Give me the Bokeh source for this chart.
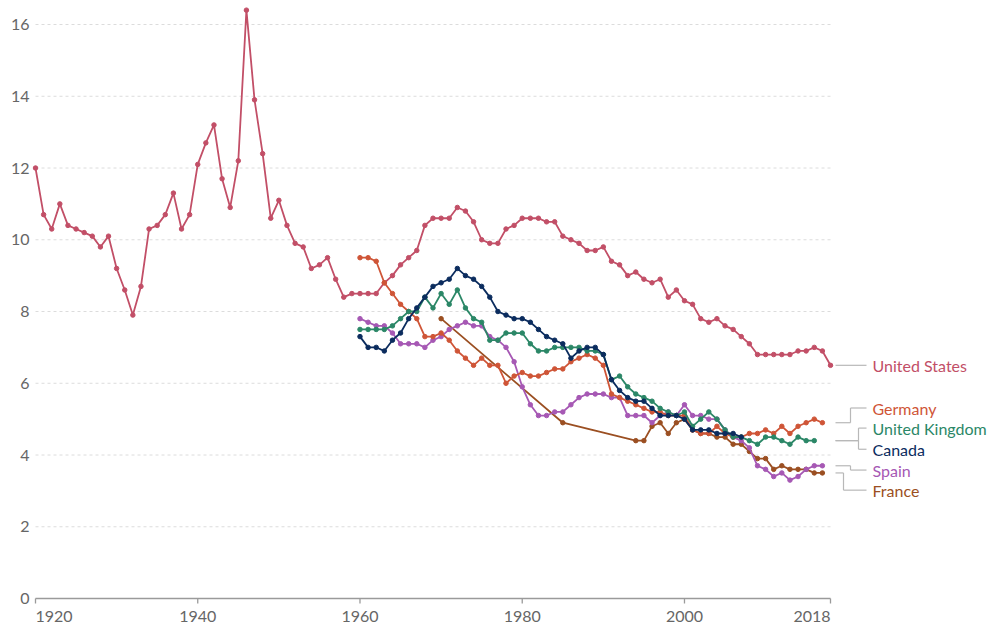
from bokeh.plotting import figure
from bokeh.models import Range1d
from bokeh.core.properties import value
from bokeh.embed import file_html
from bokeh.resources import INLINE

# ---------------- data ----------------
us_years = list(range(1920, 2019))
us_vals = [12.0, 10.7, 10.3, 11.0, 10.4, 10.3, 10.2, 10.1, 9.8, 10.1,
           9.2, 8.6, 7.9, 8.7, 10.3, 10.4, 10.7, 11.3, 10.3, 10.7,
           12.1, 12.7, 13.2, 11.7, 10.9, 12.2, 16.4, 13.9, 12.4, 10.6,
           11.1, 10.4, 9.9, 9.8, 9.2, 9.3, 9.5, 8.9, 8.4, 8.5,
           8.5, 8.5, 8.5, 8.8, 9.0, 9.3, 9.5, 9.7, 10.4, 10.6,
           10.6, 10.6, 10.9, 10.8, 10.5, 10.0, 9.9, 9.9, 10.3, 10.4,
           10.6, 10.6, 10.6, 10.5, 10.5, 10.1, 10.0, 9.9, 9.7, 9.7,
           9.8, 9.4, 9.3, 9.0, 9.1, 8.9, 8.8, 8.9, 8.4, 8.6,
           8.3, 8.2, 7.8, 7.7, 7.8, 7.6, 7.5, 7.3, 7.1, 6.8,
           6.8, 6.8, 6.8, 6.8, 6.9, 6.9, 7.0, 6.9, 6.5]

de_years = list(range(1960, 2018))
de_vals = [9.5, 9.5, 9.4, 8.8, 8.5, 8.2, 8.0, 7.8, 7.3, 7.3,
           7.4, 7.2, 6.9, 6.7, 6.5, 6.7, 6.5, 6.5, 6.0, 6.2,
           6.3, 6.2, 6.2, 6.3, 6.4, 6.4, 6.6, 6.7, 6.8, 6.7,
           6.5, 5.7, 5.6, 5.5, 5.4, 5.3, 5.2, 5.2, 5.1, 5.1,
           5.1, 4.7, 4.6, 4.6, 4.8, 4.6, 4.5, 4.5, 4.6, 4.6,
           4.7, 4.6, 4.8, 4.6, 4.8, 4.9, 5.0, 4.9]

uk_years = list(range(1960, 2017))
uk_vals = [7.5, 7.5, 7.5, 7.5, 7.6, 7.8, 8.0, 8.0, 8.4, 8.1,
           8.5, 8.2, 8.6, 8.1, 7.8, 7.7, 7.2, 7.2, 7.4, 7.4,
           7.4, 7.1, 6.9, 6.9, 7.0, 7.0, 7.0, 7.0, 6.9, 6.9,
           6.8, 6.1, 6.2, 5.9, 5.7, 5.6, 5.5, 5.3, 5.2, 5.1,
           5.2, 4.8, 5.0, 5.2, 5.0, 4.7, 4.5, 4.5, 4.4, 4.3,
           4.5, 4.5, 4.4, 4.3, 4.5, 4.4, 4.4]

ca_years = list(range(1960, 2008))
ca_vals = [7.3, 7.0, 7.0, 6.9, 7.2, 7.4, 7.8, 8.1, 8.4, 8.7,
           8.8, 8.9, 9.2, 9.0, 8.9, 8.7, 8.4, 8.0, 7.9, 7.8,
           7.8, 7.7, 7.5, 7.3, 7.2, 7.1, 6.7, 6.9, 7.0, 7.0,
           6.8, 6.1, 5.8, 5.6, 5.5, 5.5, 5.3, 5.1, 5.1, 5.1,
           5.0, 4.7, 4.7, 4.7, 4.6, 4.6, 4.6, 4.5]

es_years = list(range(1960, 2018))
es_vals = [7.8, 7.7, 7.6, 7.6, 7.4, 7.1, 7.1, 7.1, 7.0, 7.2,
           7.3, 7.5, 7.6, 7.7, 7.6, 7.6, 7.3, 7.2, 7.0, 6.6,
           5.9, 5.4, 5.1, 5.1, 5.2, 5.2, 5.4, 5.6, 5.7, 5.7,
           5.7, 5.6, 5.6, 5.1, 5.1, 5.1, 4.9, 5.1, 5.2, 5.1,
           5.4, 5.1, 5.1, 5.0, 5.0, 4.7, 4.5, 4.4, 4.2, 3.7,
           3.6, 3.4, 3.5, 3.3, 3.4, 3.6, 3.7, 3.7]

fr_years = [1970, 1985] + list(range(1994, 2018))
fr_vals = [7.8, 4.9, 4.4, 4.4, 4.8, 4.9, 4.6, 4.9, 5.0, 4.7,
           4.6, 4.6, 4.5, 4.5, 4.3, 4.3, 4.1, 3.9, 3.9, 3.6,
           3.7, 3.6, 3.6, 3.6, 3.5, 3.5]

series_names = ["United States", "France", "Spain", "Germany", "United Kingdom", "Canada"]
series_colors = ["#C24F67", "#9B4F22", "#A658B4", "#CF5537", "#2B8767", "#0B2C5E"]

x_ticks = [1920, 1940, 1960, 1980, 2000, 2018]
y_ticks = [0, 2, 4, 6, 8, 10, 12, 14, 16]

# right-side label order and label heights (in data units)
label_order = ["United States", "Germany", "United Kingdom", "Canada", "Spain", "France"]
label_y = [6.5, 5.31, 4.75, 4.16, 3.58, 3.02]

# ---------------- layout (pixels) ----------------
W, H = 989, 626
X0_PX, X1_PX = 35, 830      # pixel position of first/last year on axis
Y0_PX, Y16_PX = 598, 24     # pixel position of values 0 and 16
x_first, x_last = x_ticks[0], x_ticks[-1]
sx = (X1_PX - X0_PX) / (x_last - x_first)
sy = (Y0_PX - Y16_PX) / 16.0

def px_x(px):
    return x_first + (px - X0_PX) / sx

def px_dy(px):
    return px / sy

FONT = value("Lato")
GRAY = "#666666"

p = figure(width=W, height=H,
           x_range=Range1d(px_x(0), px_x(W)),
           y_range=Range1d(-(H - Y0_PX) / sy, Y0_PX / sy),
           output_backend="svg", toolbar_location=None,
           min_border=0, min_border_left=0, min_border_right=0,
           min_border_top=0, min_border_bottom=0)
p.outline_line_color = None
p.xaxis.visible = False
p.yaxis.visible = False
p.grid.visible = False
p.background_fill_color = "white"
p.border_fill_color = "white"

# gridlines (dashed), stop at last year
gy = [t for t in y_ticks if t > 0]
p.segment(x0=[x_first] * len(gy), y0=gy, x1=[x_last] * len(gy), y1=gy,
          line_color="#dcdcdc", line_width=1, line_dash="3 3")

# x axis line and ticks
p.segment(x0=[x_first], y0=[0], x1=[x_last], y1=[0], line_color="#9a9a9a", line_width=1.3)
p.segment(x0=x_ticks, y0=[0] * len(x_ticks), x1=x_ticks, y1=[-px_dy(5)] * len(x_ticks),
          line_color="#9a9a9a", line_width=1.3)

# y tick labels
p.text(x=[x_first] * len(y_ticks), y=y_ticks, text=[str(t) for t in y_ticks],
       x_offset=-6, text_align="right", text_baseline="middle",
       text_font=FONT, text_font_size="16px", text_color=GRAY)

# x tick labels (edge labels aligned inward)
xl_kw = dict(y_offset=18, text_baseline="middle", text_font=FONT,
             text_font_size="16px", text_color=GRAY)
p.text(x=[x_ticks[0]], y=[0], text=[str(x_ticks[0])], text_align="left", **xl_kw)
mid = x_ticks[1:-1]
p.text(x=mid, y=[0] * len(mid), text=[str(t) for t in mid], text_align="center", **xl_kw)
p.text(x=[x_ticks[-1]], y=[0], text=[str(x_ticks[-1])], text_align="right", **xl_kw)

data = {
    "United States": (us_years, us_vals),
    "France": (fr_years, fr_vals),
    "Spain": (es_years, es_vals),
    "Germany": (de_years, de_vals),
    "United Kingdom": (uk_years, uk_vals),
    "Canada": (ca_years, ca_vals),
}

for name, col in zip(series_names, series_colors):
    xs, ys = data[name]
    p.line(xs, ys, line_color=col, line_width=1.8)
    p.scatter(xs, ys, size=4.5, fill_color=col, line_color=col)

# connectors and labels
end_y = {"United States": us_vals[-1], "Germany": de_vals[-1], "United Kingdom": uk_vals[-1],
         "Canada": uk_vals[-1], "Spain": es_vals[-1], "France": fr_vals[-1]}
elbow_px = {"United States": None, "Germany": 850, "United Kingdom": 858,
            "Canada": 858, "Spain": 850, "France": 843}
color_of = dict(zip(series_names, series_colors))

cx_start = px_x(835)
cx_end = px_x(866)
lab_x = px_x(872)

sx0, sy0, sx1, sy1 = [], [], [], []
for name, ly in zip(label_order, label_y):
    ey = end_y[name]
    e = elbow_px[name]
    if e is None:
        pts = [(cx_start, ey), (cx_end, ly)]
    else:
        ex = px_x(e)
        pts = [(cx_start, ey), (ex, ey), (ex, ly), (cx_end, ly)]
    for (a, b), (c, d) in zip(pts[:-1], pts[1:]):
        sx0.append(a); sy0.append(b); sx1.append(c); sy1.append(d)
p.segment(x0=sx0, y0=sy0, x1=sx1, y1=sy1, line_color="#b8b8b8", line_width=1.2)

for name, ly in zip(label_order, label_y):
    p.text(x=[lab_x], y=[ly], text=[name], text_align="left", text_baseline="middle",
           text_font=FONT, text_font_size="16px", text_color=color_of[name])

open("out.html", "w").write(file_html(p, INLINE))
